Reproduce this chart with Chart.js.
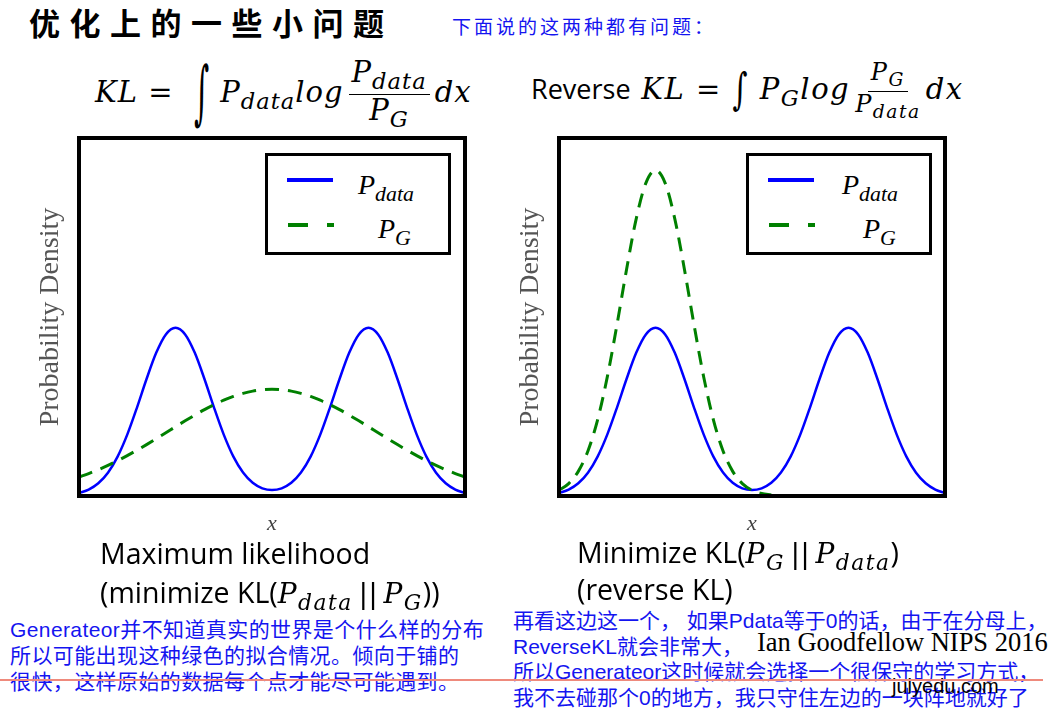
<!DOCTYPE html>
<html lang="zh">
<head>
  <meta charset="UTF-8" />
  <title>优化上的一些小问题</title>
  <script src="https://cdn.jsdelivr.net/npm/chart.js"></script>
  <style>
    body {
      margin: 0;
      width: 1062px;
      height: 713px;
      overflow: hidden;
      background: #fff;
      position: relative;
      font-family: "Liberation Sans", "Noto Sans CJK SC", sans-serif;
    }
    .abs { position: absolute; white-space: nowrap; line-height: 1; }
    .plot { position: absolute; width: 440px; height: 411px; }
    .m { font-family: "DejaVu Serif", serif; font-style: italic; letter-spacing: 1.5px; }
    .up { font-family: "DejaVu Serif", serif; font-style: normal; }
    .sub { font-size: 0.78em; vertical-align: -0.3em; }
    .frac {
      display: inline-flex;
      flex-direction: column;
      align-items: center;
      vertical-align: middle;
      margin: 0 5px;
    }
    .frac > span { line-height: 1.08; }
    .frac > span:first-child { border-bottom: 1.6px solid #000; padding: 0 3px 1px; }
    .int { display: inline-block; font-family: "DejaVu Serif", serif; font-style: normal; }
    .sans { font-family: "Open Sans", sans-serif; font-style: normal; letter-spacing: 0; }
    .blue { color: #1414f0; font-size: 21px; }
    .legend {
      position: absolute;
      width: 180px;
      height: 96px;
      border: 3px solid #000;
      background: #fff;
    }
    .legend .ln { position: absolute; height: 4px; }
    .legend .lab { position: absolute; font-size: 28px; line-height: 1; white-space: nowrap; font-family: "Liberation Serif", serif; letter-spacing: 0; }
  </style>
</head>
<body>

  <div class="abs" style="left:29px;top:6px;font-family:'Noto Sans CJK SC';font-weight:bold;font-size:31px;letter-spacing:9.5px;color:#000;">优化上的一些小问题</div>
  <div class="abs" style="left:452px;top:16px;font-family:'Noto Sans CJK SC';font-size:19px;letter-spacing:3px;color:#1414f0;">下面说的这两种都有问题：</div>

  <!-- formulas -->
  <div class="abs m" style="left:95px;top:57px;font-size:29px;line-height:56px;letter-spacing:1px;">
    KL<span class="up">&nbsp;=&nbsp;&nbsp;</span><span class="int" style="transform:scale(1,2.4);">∫</span>&nbsp;P<span class="sub">data</span>log<span class="frac"><span>P<span class="sub">data</span></span><span>P<span class="sub">G</span></span></span>dx
  </div>
  <div class="abs m" style="left:531px;top:60px;font-size:29px;line-height:56px;">
    <span class="sans" style="font-size:27px">Reverse</span> KL<span class="up">&nbsp;=&nbsp;</span><span class="int" style="transform:scale(1,1.5);">∫</span>&nbsp;P<span class="sub">G</span>log<span class="frac" style="font-size:24px"><span>P<span class="sub">G</span></span><span>P<span class="sub">data</span></span></span>dx
  </div>

  <!-- charts -->
  <div class="plot" style="left:30px;top:130px;"><canvas id="leftChart"></canvas></div>
  <div class="plot" style="left:510px;top:130px;"><canvas id="rightChart"></canvas></div>

  <div class="legend" style="left:265px;top:153px;">
    <div class="ln" style="left:19px;top:22px;width:46px;background:#0000ff;"></div>
    <div class="lab m" style="left:90px;top:15px;">P<span class="sub">data</span></div>
    <div class="ln" style="left:20px;top:67px;width:20px;background:#008000;"></div>
    <div class="ln" style="left:59px;top:67px;width:7px;background:#008000;"></div>
    <div class="lab m" style="left:110px;top:59px;">P<span class="sub">G</span></div>
  </div>
  <div class="legend" style="left:746px;top:153px;">
    <div class="ln" style="left:19px;top:22px;width:46px;background:#0000ff;"></div>
    <div class="lab m" style="left:93px;top:15px;">P<span class="sub">data</span></div>
    <div class="ln" style="left:20px;top:67px;width:20px;background:#008000;"></div>
    <div class="ln" style="left:59px;top:67px;width:7px;background:#008000;"></div>
    <div class="lab m" style="left:114px;top:59px;">P<span class="sub">G</span></div>
  </div>

  <!-- captions -->
  <div class="abs sans" style="left:100px;top:539px;font-size:28.5px;">Maximum likelihood</div>
  <div class="abs sans" style="left:100px;top:578px;font-size:28.5px;">(minimize KL(<span class="m" style="font-size:28px">P<span class="sub">data</span></span><span class="up">&thinsp;||&thinsp;</span><span class="m" style="font-size:28px">P<span class="sub">G</span></span>))</div>
  <div class="abs sans" style="left:577px;top:538px;font-size:28.5px;">Minimize KL(<span class="m" style="font-size:28px">P<span class="sub">G</span></span><span class="up">&thinsp;||&thinsp;</span><span class="m" style="font-size:28px">P<span class="sub">data</span></span>)</div>
  <div class="abs sans" style="left:577px;top:575px;font-size:28.5px;">(reverse KL)</div>

  <div class="abs blue" style="left:10px;top:617px;line-height:26px;letter-spacing:0.4px;">Generateor并不知道真实的世界是个什么样的分布<br>所以可能出现这种绿色的拟合情况。倾向于铺的<br>很快，这样原始的数据每个点才能尽可能遇到。</div>
  <div class="abs blue" style="left:513px;top:608px;line-height:25.5px;">再看这边这一个， 如果Pdata等于0的话，由于在分母上，<br>ReverseKL就会非常大，<br>所以Generateor这时候就会选择一个很保守的学习方式，<br>我不去碰那个0的地方，我只守住左边的一块阵地就好了</div>

  <div class="abs" style="left:757px;top:629px;font-family:'Liberation Serif';font-size:26.5px;color:#000;">Ian Goodfellow NIPS 2016</div>
  <div class="abs" style="left:892px;top:676px;font-family:'Liberation Sans';font-size:20px;color:#000;">julyedu.com</div>
  <div style="position:absolute;left:0;top:679px;width:1043px;height:2px;background:#ef8a7c;"></div>

  <script>
    // x positions (0 = left edge, 1 = right edge of each plot)
    const xs = [0, 0.025, 0.05, 0.075, 0.1, 0.125, 0.15, 0.175, 0.2, 0.225,
                0.25, 0.275, 0.3, 0.325, 0.35, 0.375, 0.4, 0.425, 0.45, 0.475,
                0.5, 0.525, 0.55, 0.575, 0.6, 0.625, 0.65, 0.675, 0.7, 0.725,
                0.75, 0.775, 0.8, 0.825, 0.85, 0.875, 0.9, 0.925, 0.95, 0.975, 1];

    // two-peak data density (same in both plots)
    const pData = [0.0083, 0.0179, 0.0355, 0.0650, 0.1100, 0.1714, 0.2464, 0.3268, 0.3999, 0.4514,
                   0.4700, 0.4514, 0.3999, 0.3268, 0.2464, 0.1714, 0.1100, 0.0655, 0.0369, 0.0215,
                   0.0166, 0.0215, 0.0369, 0.0655, 0.1100, 0.1714, 0.2464, 0.3268, 0.3999, 0.4514,
                   0.4700, 0.4514, 0.3999, 0.3268, 0.2464, 0.1714, 0.1100, 0.0650, 0.0355, 0.0179, 0.0083];

    // left plot: broad P_G covering both modes
    const pGLeft = [0.0530, 0.0627, 0.0735, 0.0855, 0.0986, 0.1128, 0.1278, 0.1436, 0.1600, 0.1767,
                    0.1935, 0.2100, 0.2260, 0.2412, 0.2551, 0.2675, 0.2781, 0.2866, 0.2929, 0.2967,
                    0.2980, 0.2967, 0.2929, 0.2866, 0.2781, 0.2675, 0.2551, 0.2412, 0.2260, 0.2100,
                    0.1935, 0.1767, 0.1600, 0.1436, 0.1278, 0.1128, 0.0986, 0.0855, 0.0735, 0.0627, 0.0530];

    // right plot: P_G sits on the left mode only (ends near the middle)
    const pGRight = [0.0161, 0.0347, 0.0688, 0.1259, 0.2128, 0.3319, 0.4771, 0.6328, 0.7743, 0.8741,
                     0.9100, 0.8741, 0.7743, 0.6328, 0.4771, 0.3319, 0.2128, 0.1259, 0.0688, 0.0347,
                     0.0161, 0.0069, 0.0027];

    const frame = {
      id: 'frame',
      afterDatasetsDraw(chart) {
        const { ctx, chartArea: a } = chart;
        ctx.save();
        ctx.lineWidth = 4;
        ctx.strokeStyle = '#000';
        ctx.strokeRect(a.left, a.top, a.right - a.left, a.bottom - a.top);
        ctx.restore();
      }
    };

    function points(vals) {
      return vals.map((v, i) => ({ x: xs[i], y: v }));
    }

    function makeChart(id, green) {
      new Chart(document.getElementById(id), {
        type: 'line',
        data: {
          datasets: [
            {
              label: 'P_G',
              data: points(green),
              borderColor: '#008000',
              borderWidth: 3,
              borderDash: [14, 9],
              pointRadius: 0,
              cubicInterpolationMode: 'monotone'
            },
            {
              label: 'P_data',
              data: points(pData),
              borderColor: '#0000ff',
              borderWidth: 2.5,
              pointRadius: 0,
              cubicInterpolationMode: 'monotone'
            }
          ]
        },
        options: {
          responsive: true,
          maintainAspectRatio: false,
          animation: false,
          layout: { padding: { top: 8, right: 5, left: 0, bottom: 0 } },
          plugins: { legend: { display: false }, tooltip: { enabled: false } },
          scales: {
            x: {
              type: 'linear', min: 0, max: 1,
              ticks: { display: false },
              grid: { display: false },
              border: { display: false },
              title: {
                display: true, text: 'x', color: '#444',
                font: { family: 'Liberation Serif', style: 'italic', size: 22 },
                padding: { top: 0, bottom: 4 }
              },
              afterFit: s => { s.height = 45; }
            },
            y: {
              min: 0, max: 1,
              ticks: { display: false },
              grid: { display: false },
              border: { display: false },
              title: {
                display: true, text: 'Probability Density', color: '#555',
                font: { family: 'Liberation Serif', size: 28 },
                padding: { top: 4, bottom: 0 }
              },
              afterFit: s => { s.width = 49; }
            }
          }
        },
        plugins: [frame]
      });
    }

    makeChart('leftChart', pGLeft);
    makeChart('rightChart', pGRight);
  </script>

</body>
</html>
